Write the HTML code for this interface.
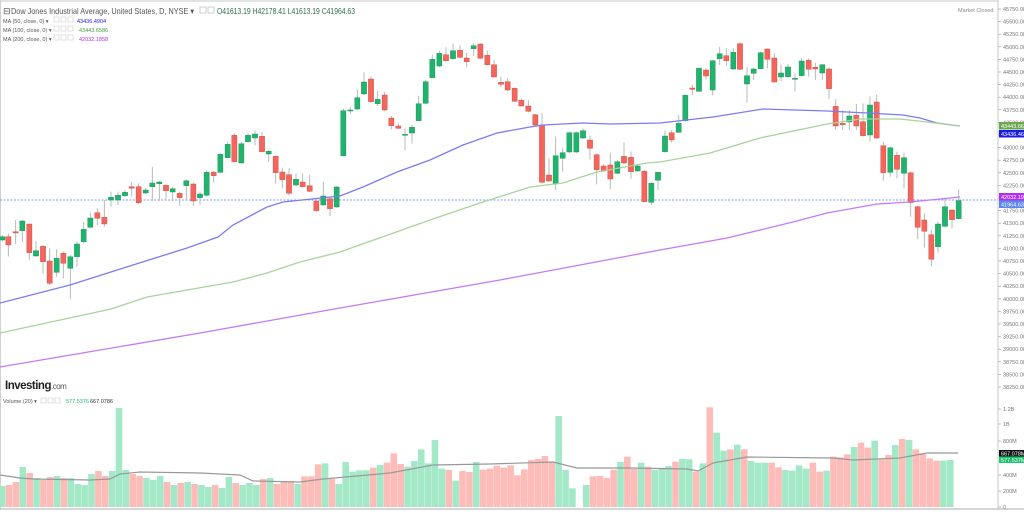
<!DOCTYPE html>
<html><head><meta charset="utf-8"><style>
html,body{margin:0;padding:0;background:#fff;width:1024px;height:514px;overflow:hidden;font-family:"Liberation Sans",sans-serif}
svg{position:absolute;left:0;top:0}
</style></head><body>
<svg id="s" width="1024" height="514" xmlns="http://www.w3.org/2000/svg" font-family="Liberation Sans, sans-serif">
<rect x="0" y="0" width="1024" height="514" fill="#fff"/>
<line x1="0" y1="1" x2="998" y2="1" stroke="#e3e3e3" stroke-width="2"/>
<line x1="0.5" y1="0" x2="0.5" y2="510" stroke="#d0d0d0"/>
<line x1="998" y1="0" x2="998" y2="510" stroke="#c8c8c8"/>
<line x1="0" y1="509" x2="1024" y2="509" stroke="#c8c8c8" stroke-width="1.5"/>
<line x1="0" y1="200" x2="998" y2="200" stroke="#5b7cf0" stroke-width="0.8" stroke-dasharray="2,1.5"/>
<g id="vol"></g>
<g id="cnd"></g>
<polyline fill="none" stroke="#999" stroke-width="1.2" points="0,475 20,478 33,479 90,480 110,479 120,474 140,472 200,473 240,475 253,481 300,482 323,479 390,473 433,465 490,464 553,462 577,468 630,468 687,469 698,471 713,463 747,457 833,458 853,460 900,458 927,453 958,453"/>
<polyline fill="none" stroke="#7b7bf5" stroke-width="1.3" points="0,303 70,285 133,265 187,248 218,237 233,225 267,207 283,202 340,196 363,187 397,172 430,160 463,145 497,133 530,127 543,125 583,123 610,124 660,123 713,117 763,109 827,111 867,113 903,115 920,118 937,123 960,126"/>
<polyline fill="none" stroke="#a9d39a" stroke-width="1.3" points="0,333 111,309 147,297 233,282 267,273 300,262 340,252 430,220 480,203 530,187 563,183 597,172 647,163 660,162 710,153 760,138 827,124 860,119 900,119 927,122 960,126"/>
<polyline fill="none" stroke="#c57af5" stroke-width="1.3" points="0,367 100,350 200,333 340,308 420,294 500,280 580,265 660,250 727,238 793,222 827,213 877,204 910,202 960,197"/>
<text x="3" y="14" font-size="9" fill="#555">⊟</text>
<text x="11" y="14" font-size="8.5" fill="#555" textLength="183" lengthAdjust="spacingAndGlyphs">Dow Jones Industrial Average, United States, D, NYSE ▾</text>
<rect x="200" y="7" width="6" height="6" fill="none" stroke="#bbb" stroke-width="0.7"/><rect x="208" y="7" width="6" height="6" fill="none" stroke="#bbb" stroke-width="0.7"/>
<text x="217" y="14" font-size="8" fill="#2c6e49" textLength="138" lengthAdjust="spacingAndGlyphs">O41613.19  H42178.41  L41613.19  C41964.63</text>
<text x="3" y="23" font-size="5.5" fill="#555">MA (50, close, 0) ▾</text>
<text x="3" y="32" font-size="5.5" fill="#555">MA (100, close, 0) ▾</text>
<text x="3" y="41" font-size="5.5" fill="#555">MA (200, close, 0) ▾</text>
<g fill="none" stroke="#ccc" stroke-width="0.6">
<rect x="54" y="17" width="5" height="5"/><rect x="61" y="17" width="5" height="5"/><rect x="68" y="17" width="5" height="5"/>
<rect x="54" y="26" width="5" height="5"/><rect x="61" y="26" width="5" height="5"/><rect x="68" y="26" width="5" height="5"/>
<rect x="54" y="35" width="5" height="5"/><rect x="61" y="35" width="5" height="5"/><rect x="68" y="35" width="5" height="5"/>
<rect x="41" y="398" width="5" height="5"/><rect x="48" y="398" width="5" height="5"/><rect x="55" y="398" width="5" height="5"/>
</g>
<text x="77" y="23" font-size="5.5" fill="#2222ee">43436.4904</text>
<text x="79" y="32" font-size="5.5" fill="#4a9a3a">43443.6586</text>
<text x="79" y="41" font-size="5.5" fill="#b030f0">42032.1858</text>
<text x="958" y="12" font-size="5.5" fill="#888">Market Closed</text>
<text x="5" y="389" font-size="11.5" font-weight="bold" fill="#222" letter-spacing="-0.5">Investing<tspan font-weight="normal" font-size="8" fill="#555">.com</tspan></text>
<text x="3" y="403" font-size="5.5" fill="#555">Volume (20) ▾</text>
<text x="66" y="403" font-size="5.5" fill="#1eb871">577.5376</text>
<text x="90" y="403" font-size="5.5" fill="#333">667.0786</text>
<g id="ax" font-size="5.5" fill="#777"></g>
<rect x="999" y="122" width="25" height="7.5" fill="#6aa84f"/><text x="1001" y="128" font-size="5.5" fill="#fff">43443.66</text>
<rect x="999" y="130" width="25" height="7.5" fill="#1a1ae6"/><text x="1001" y="136" font-size="5.5" fill="#fff">43436.46</text>
<rect x="999" y="193" width="25" height="7.5" fill="#b030f0"/><text x="1001" y="199" font-size="5.5" fill="#fff">42032.19</text>
<rect x="999" y="200.5" width="25" height="7.5" fill="#5b86ee"/><text x="1001" y="206.5" font-size="5.5" fill="#fff">41964.63</text>
<rect x="999" y="450" width="25" height="6.5" fill="#111"/><text x="1001" y="455.5" font-size="5.5" fill="#fff">667.078M</text>
<rect x="999" y="456.5" width="25" height="6.5" fill="#19c36e"/><text x="1001" y="462" font-size="5.5" fill="#fff">577.537M</text>
</svg>
<script>
var NS="http://www.w3.org/2000/svg";
function el(p,t,a){var e=document.createElementNS(NS,t);for(var k in a)e.setAttribute(k,a[k]);p.appendChild(e);return e;}
var G="#1fb36d",R="#f4655b";
var c=document.getElementById("cnd");
function add(list,ox,oy){list.forEach(function(d){var x=ox+d[0]/3;var t=oy+d[1]/3,b=oy+d[2]/3,wt=oy+d[4]/3,wb=oy+d[5]/3;
el(c,"line",{x1:x,x2:x,y1:wt,y2:wb,stroke:"#aab5ad","stroke-width":0.9});
el(c,"rect",{x:x-2.6,y:t,width:5.2,height:Math.max(1,b-t),fill:d[3]=="g"?G:R,stroke:d[3]=="g"?"#158a52":"#c9473f","stroke-width":0.4});});}
add([[7,590,600,"g",585,605],[25,590,615,"r",580,650],[47,575,579,"r",540,612],[67,543,572,"g",540,605],[88,552,638,"r",552,660],[108,632,648,"g",603,650],[129,619,665,"r",615,700],[149,663,730,"r",625,735],[170,655,697,"g",628,710],[190,640,670,"r",635,715],[211,650,685,"g",645,778],[231,612,650,"g",605,680],[251,568,605,"g",545,610],[271,534,562,"g",518,565],[292,518,535,"r",505,555],[313,532,552,"r",480,560],[333,472,480,"g",455,500],[354,466,480,"g",455,495],[375,457,467,"g",450,470],[395,440,445,"r",425,470],[416,440,488,"r",430,492],[437,450,459,"g",445,462],[457,429,440,"g",380,483],[478,426,431,"g",422,483],[498,436,452,"r",432,483],[518,446,456,"g",440,483],[539,460,473,"r",455,497],[559,422,437,"g",418,480],[580,432,483,"r",428,498],[600,462,473,"g",455,493],[620,397,466,"g",392,470],[641,397,407,"r",392,427],[661,343,397,"g",340,400],[683,313,353,"g",305,355],[703,286,365,"r",280,367],[724,311,369,"g",305,370],[744,286,305,"g",280,308],[765,282,294,"g",272,316],[786,289,335,"r",276,337],[806,334,342,"g",330,365],[827,349,398,"r",347,430],[847,396,419,"r",383,445],[867,404,460,"r",385,467],[888,418,435,"g",400,438],[908,426,440,"r",400,443],[929,437,454,"r",405,456],[949,483,512,"r",480,515],[970,468,495,"g",425,497],[990,476,506,"r",472,528],[1010,441,501,"g",438,503]],0,40);
add([[40,242,377,"g",236,380],[61,240,243,"g",232,252],[82,203,237,"g",178,242],[102,156,192,"g",127,195],[123,147,215,"r",140,218],[143,208,221,"g",183,228],[164,195,240,"r",185,244],[184,264,287,"r",258,298],[205,288,295,"r",280,298],[225,313,316,"g",295,360],[246,292,309,"g",285,340],[266,221,272,"g",198,273],[287,155,220,"g",150,222],[307,88,143,"g",75,145],[328,70,108,"g",62,112],[348,74,92,"r",52,95],[369,62,86,"g",40,88],[390,61,82,"r",46,85],[410,84,95,"r",68,112],[431,47,56,"g",40,78],[451,42,85,"r",40,88],[472,76,104,"r",62,106],[492,104,141,"r",90,143],[513,157,163,"r",140,172],[533,155,180,"r",145,183],[554,175,214,"r",172,216],[574,211,228,"r",205,230],[595,228,244,"r",210,246],[616,254,285,"r",252,288],[636,285,457,"r",250,460],[657,435,453,"r",385,456],[677,377,462,"g",320,480],[698,368,385,"g",355,425],[718,308,366,"g",305,370],[739,308,366,"g",305,370],[759,302,324,"g",295,327],[780,330,355,"r",318,388],[800,374,419,"r",370,463],[821,408,423,"r",402,426],[841,405,447,"r",368,477],[862,395,430,"g",390,433],[882,379,399,"r",337,402],[903,382,425,"r",365,446],[923,408,423,"g",405,425],[943,424,515,"r",420,517],[964,460,517,"g",457,525],[984,427,451,"g",425,480],[1005,318,365,"g",302,368]],330,30);
add([[35,308,330,"r",300,338],[56,280,307,"g",255,310],[76,196,272,"g",193,275],[97,174,178,"r",165,195],[117,115,184,"g",112,186],[138,120,138,"r",115,148],[158,92,180,"g",90,196],[179,71,86,"g",50,105],[199,77,92,"r",55,108],[220,67,117,"g",55,120],[240,41,118,"r",38,120],[261,137,162,"g",112,218],[281,117,130,"g",112,150],[302,68,116,"g",65,118],[322,57,88,"r",55,115],[343,84,156,"r",70,158],[363,129,141,"g",104,153],[384,111,140,"g",102,143],[405,145,148,"g",130,185],[425,93,137,"g",85,140],[446,91,118,"r",85,140],[466,112,117,"r",98,150],[487,104,129,"g",102,150],[507,117,176,"r",112,207],[527,229,288,"r",208,298],[548,280,284,"r",240,300],[568,258,276,"g",240,300],[589,256,288,"r",222,300],[609,275,317,"r",220,320],[630,225,315,"g",200,335],[650,216,324,"r",195,327],[670,347,428,"r",335,452],[691,353,427,"g",350,440],[711,376,418,"r",365,445],[732,383,430,"g",368,475],[752,428,518,"r",425,560],[773,530,592,"r",528,627],[793,570,604,"r",550,653],[814,614,688,"r",600,708],[834,582,650,"g",575,668],[855,530,589,"g",505,592],[876,540,569,"r",538,594],[896,512,566,"g",478,568]],660,30);
var v=document.getElementById("vol");
var a1=[486,485,482,467,473,478,480,477,476,478,478,484,485,474,471,476,471,408,470,474,476,478,480,476,482,485,483,482,484,485,487,485,488,477,483,485,483,485,479,478,484,481];
var a2=[243,252,229,229,193,190,237,252,186,215,211,211,203,195,188,160,192,200,183,148,190,120,206,210,242,213,216,186,209,206,197,203,196,226,208,180,177,168,185,48,210,265,330,255,229,228,234,209];
var a3=[186,170,207,188,200,210,205,198,185,177,178,215,190,22,98,152,148,134,148,183,188,188,188,202,210,212,196,206,188,215,212,170,172,163,141,128,143,122,178,165,135,117,120,148,160,175,182,182,180];
var tops=a1.concat(a2.map(function(z){return 400+z/3})).concat(a3.map(function(z){return 400+z/3}));
var rects=c.querySelectorAll("rect");
for(var i=0;i<tops.length;i++){var x=2.3+i*6.87;var col=rects[i]?rects[i].getAttribute("fill"):G;
el(v,"rect",{x:x-3.4,y:tops[i],width:6.6,height:Math.max(0,507-tops[i]),fill:col==G?"#a3e9c8":"#fdbcb8"});}
var ax=document.getElementById("ax");
for(var p=45750;p>=38250;p-=250){var y=9+(45750-p)/250*12.6;el(ax,"line",{x1:998,x2:1001,y1:y,y2:y,stroke:"#999","stroke-width":0.6});
var t=el(ax,"text",{x:1003,y:y+2});t.textContent=p.toFixed(2);}
[["1.2B",409],["1B",424],["800M",441],["400M",475],["200M",491],["0",507]].forEach(function(d){el(ax,"line",{x1:998,x2:1001,y1:d[1],y2:d[1],stroke:"#999","stroke-width":0.6});var t=el(ax,"text",{x:1003,y:d[1]+2});t.textContent=d[0];});
</script>
</body></html>
